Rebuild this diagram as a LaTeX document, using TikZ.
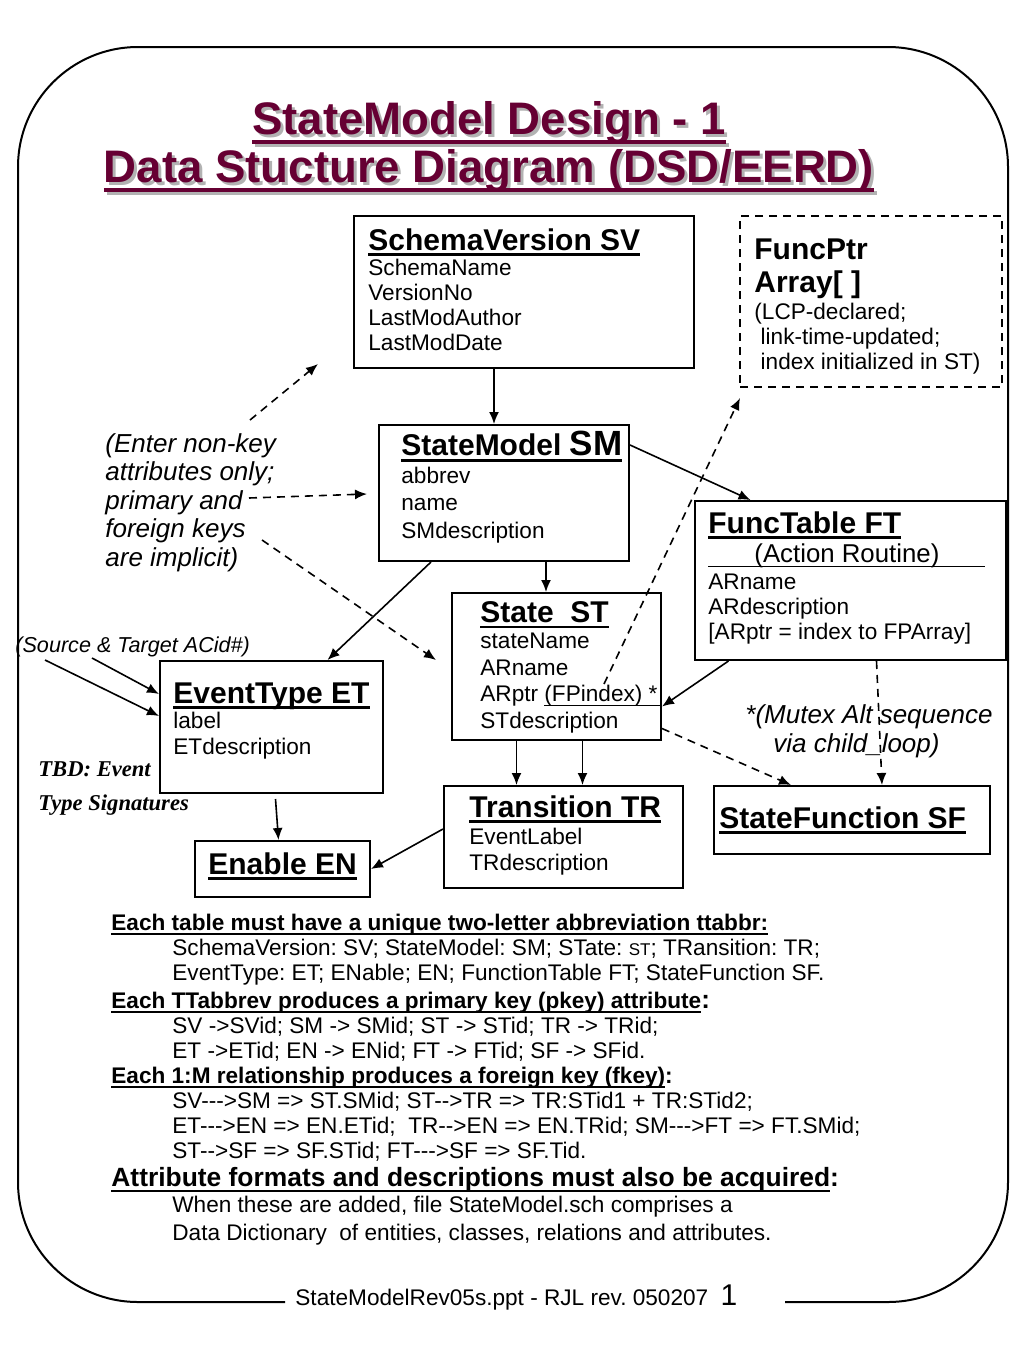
\documentclass[tikz,border=0pt]{standalone}
\usepackage{fontspec}
\setmainfont{Liberation Sans}[Ligatures=TeXOff]
\newfontfamily\tbdfont{Liberation Serif}
\usetikzlibrary{arrows.meta}
\frenchspacing
\definecolor{titlered}{RGB}{102,0,51}
\newcommand\fs[2]{\fontsize{#1}{#2}\selectfont\lineskiplimit=-100pt}
\newcommand\hdul[2][1pt]{{\setbox0=\hbox{#2}\rlap{\vrule width\wd0 height\dimexpr-0.2em+#1\relax depth 0.2em}\box0}}
\newcommand\tblhead[1]{{\bfseries\fontsize{15}{15}\selectfont\hdul[1.4pt]{#1}}}
\tikzset{
  tbl/.style={draw, line width=1pt, inner sep=0pt, anchor=north west},
  fptbl/.style={tbl, dash pattern=on 4pt off 3pt},
  rows/.style={anchor=north west, inner sep=0pt, align=left},
  body/.style={rows, font=\fs{11.3}{#1}},
  body/.default=12.5pt,
  link/.style={line width=0.8pt, -{Latex[length=6pt,width=5pt]}},
  hint/.style={link, dash pattern=on 4pt off 3pt},
  ttlstyle/.style={anchor=north, inner sep=0pt, align=center, font=\bfseries\fs{22.8}{24}}
}

\begin{document}
\begin{tikzpicture}[x=0.5pt,y=-0.5pt]
\useasboundingbox (0,0) rectangle (1024,1365);

% frame
\draw[line width=1pt, rounded corners=60pt] (285,1302) -- (18,1302) -- (18,47) -- (1008,47) -- (1008,1302) -- (785,1302);

% title
\node[ttlstyle, black!30] (ttlshadow) at (492,104) {\hdul[2pt]{StateModel Design - 1}\\\hdul[2pt]{Data Stucture Diagram (DSD/EERD)}};
\node[ttlstyle, titlered] (ttl) at (489,101) {\hdul[2pt]{StateModel Design - 1}\\\hdul[2pt]{Data Stucture Diagram (DSD/EERD)}};

% tables
\node[tbl, minimum width=170pt, minimum height=76pt] (sv) at (353,215) {};
\node[fptbl, minimum width=131pt, minimum height=85.5pt] (fp) at (739,215) {};
\node[tbl, minimum width=125pt, minimum height=68pt] (sm) at (378,424) {};
\node[tbl, minimum width=155.5pt, minimum height=79.5pt] (ft) at (694,500) {};
\node[tbl, minimum width=104.5pt, minimum height=73.5pt] (st) at (451,592) {};
\node[tbl, minimum width=111.5pt, minimum height=66pt] (et) at (159,660) {};
\node[tbl, minimum width=119.5pt, minimum height=51pt] (tr) at (443,785) {};
\node[tbl, minimum width=138pt, minimum height=34pt] (sf) at (713,785) {};
\node[tbl, minimum width=87.5pt, minimum height=28pt] (en) at (194,840) {};

% table contents
\node[body] (svtxt) at (368,228) {\tblhead{SchemaVersion SV}\\SchemaName\\VersionNo\\LastModAuthor\\LastModDate};
\node[body] (fptxt) at (754,238) {{\bfseries\fontsize{15}{15}\selectfont FuncPtr}\\[4pt]{\bfseries\fontsize{15}{15}\selectfont Array[ ]}\\[1pt](LCP-declared;\\\ link-time-updated;\\\ index initialized in ST)};
\node[body=13.75pt] (smtxt) at (401,431) {{\bfseries\fontsize{15}{15}\selectfont\hdul[1.4pt]{StateModel {\fontsize{17.5}{17.5}\selectfont SM}}}\\abbrev\\name\\SMdescription};
\node[body] (fttxt) at (708,511) {\tblhead{FuncTable FT}\\[2pt]{\fontsize{12.9}{14}\selectfont\hdul[0.8pt]{\makebox[138.5pt]{(Action Routine)}}}\\[1pt]ARname\\ARdescription\\{[}ARptr = index to FPArray{]}};
\node[body=13.25pt] (sttxt) at (480,601) {\tblhead{State\ \ ST}\\stateName\\ARname\\ARptr \hdul[0.8pt]{(FPindex) *\hspace{2pt}}\\STdescription};
\node[body=12.75pt] (ettxt) at (173,682) {\tblhead{EventType ET}\\label\\ETdescription};
\node[body=13pt] (trtxt) at (469,795) {\tblhead{Transition TR}\\[0.5pt]EventLabel\\TRdescription};
\node[body] (sftxt) at (719,806) {\tblhead{StateFunction SF}};
\node[body] (entxt) at (208,852) {\tblhead{Enable EN}};

% side remarks
\node[rows, font=\itshape\fs{13}{14.25}] (keyhint) at (105,433) {(Enter non-key\\attributes only;\\primary and\\foreign keys\\are implicit)};
\node[anchor=base west, inner sep=0pt, font=\itshape\fs{10.8}{12}] (srchint) at (15,652) {(Source \& Target ACid\#)};
\node[rows, font=\itshape\fs{13}{14.5}] (mutexhint) at (745,704) {*(Mutex Alt sequence\\\hspace*{14pt}via child\_loop)};
\node[rows, font=\tbdfont\bfseries\itshape\fs{11.3}{17}] (tbdnote) at (38,761) {TBD: Event\\Type Signatures};

% relationships
\draw[link] ([xshift=-15pt]sv.south) -- ([xshift=-15pt]sv.south |- sm.north);
\draw[link] ([yshift=24pt]sm.east) -- ([xshift=-50pt]ft.north);
\draw[link] ([xshift=21pt]sm.south) -- ([xshift=21pt]sm.south |- st.north);
\draw[link] ([xshift=-36.5pt]sm.south) -- ([xshift=28pt]et.north);
\draw[link] ([xshift=-61pt]ft.south) -- ([yshift=-20pt]st.east);
\draw[link] ([xshift=-20pt]st.south) -- ([xshift=-20pt]st.south |- tr.north);
\draw[link] ([xshift=13pt]st.south) -- ([xshift=13pt]st.south |- tr.north);
\draw[link] ([xshift=2pt,yshift=-2.5pt]et.south) -- ([xshift=-2pt]en.north);
\draw[link] ([yshift=4pt]tr.west) -- (en.east);

\coordinate (srcA) at (92,658);
\coordinate (srcB) at (45,660);
\draw[link] (srcA) -- ([yshift=16.5pt]et.west);
\draw[link] (srcB) -- ([yshift=5.5pt]et.west);

% dashed pointers
\coordinate (svhintA) at (250,420);
\coordinate (svhintB) at (318,364);
\coordinate (smhintA) at (249,498);
\coordinate (smhintB) at (367,494);
\coordinate (sthintA) at (262,540);
\coordinate (sthintB) at (436,660);
\coordinate (fphintA) at (604,684);
\coordinate (fphintB) at (740,398);
\draw[hint] (svhintA) -- (svhintB);
\draw[hint] (smhintA) -- (smhintB);
\draw[hint] (sthintA) -- (sthintB);
\draw[hint] (fphintA) -- (fphintB);
\draw[hint] ([yshift=-31pt]st.east) -- ([xshift=-30.5pt]sf.north);
\draw[hint] ([xshift=13pt]ft.south) -- ([xshift=15pt]sf.north);

% notes
\node[body] (notes) at (111,914) {%
{\bfseries\fs{11.3}{12.5}\hdul{Each table must have a unique two-letter abbreviation ttabbr:}}\\
\hspace*{30.5pt}SchemaVersion: SV; StateModel: SM; STate: {\fontsize{8.5}{8.5}\selectfont ST}; TRansition: TR;\\
\hspace*{30.5pt}EventType: ET; ENable; EN; FunctionTable FT; StateFunction SF.\\[1.5pt]
{\bfseries\fs{11.3}{12.5}\hdul{Each TTabbrev produces a primary key (pkey) attribute}{\fontsize{13}{13}\selectfont:}}\\
\hspace*{30.5pt}SV ->SVid; SM -> SMid; ST -> STid; TR -> TRid;\\
\hspace*{30.5pt}ET ->ETid; EN -> ENid; FT -> FTid; SF -> SFid.\\
{\bfseries\fs{11.3}{12.5}\hdul{Each 1:M relationship produces a foreign key (fkey)}:}\\
\hspace*{30.5pt}SV--->SM => ST.SMid; ST-->TR => TR:STid1 + TR:STid2;\\
\hspace*{30.5pt}ET--->EN => EN.ETid;\ \ TR-->EN => EN.TRid; SM--->FT => FT.SMid;\\
\hspace*{30.5pt}ST-->SF => SF.STid; FT--->SF => SF.Tid.\\[1.5pt]
{\bfseries\fs{13.2}{12.5}\hdul{Attribute formats and descriptions must also be acquired}:}\\[0.5pt]
\hspace*{30.5pt}When these are added, file StateModel.sch comprises a\\[1.5pt]
\hspace*{30.5pt}Data Dictionary\ \ of entities, classes, relations and attributes.};

% footer
\node[anchor=base west, inner sep=0pt, font=\fs{11.3}{12}] (footer) at (295,1305) {StateModelRev05s.ppt - RJL rev. 050207\hspace{3pt} {\fontsize{15}{15}\selectfont 1}};
\end{tikzpicture}
\end{document}
